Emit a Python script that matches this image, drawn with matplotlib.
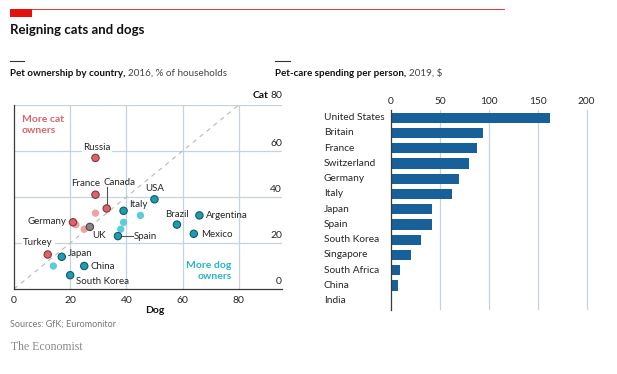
import matplotlib
matplotlib.use("Agg")
import matplotlib.pyplot as plt
from matplotlib.lines import Line2D
from matplotlib.patches import Rectangle
from matplotlib.transforms import blended_transform_factory, IdentityTransform

plt.rcParams['font.family'] = ['Lato', 'DejaVu Sans']

# --- pet ownership, % of households (dog, cat) ---
own_names = ["Russia", "France", "Canada", "Germany", "UK", "Turkey",
             "USA", "Italy", "Spain", "Brazil", "Argentina", "Mexico",
             "Japan", "China", "South Korea"]
own_dog = [29, 29, 33, 21, 27, 12, 50, 39, 37, 58, 66, 64, 17, 25, 20]
own_cat = [57, 41, 35, 29, 27, 15, 39, 34, 23, 28, 32, 24, 14, 10, 6]
own_kind = ["cat", "cat", "cat", "cat", "even", "cat",
            "dog", "dog", "dog", "dog", "dog", "dog", "dog", "dog", "dog"]
# unlabelled countries
other_dog = [29, 22, 25, 45, 39, 38, 14]
other_cat = [33, 28, 26, 32, 29, 26, 10]
other_kind = ["cat", "cat", "cat", "dog", "dog", "dog", "dog"]

# --- pet-care spending per person, 2019, $ ---
spend_names = ["United States", "Britain", "France", "Switzerland", "Germany",
               "Italy", "Japan", "Spain", "South Korea", "Singapore",
               "South Africa", "China", "India"]
spend_vals = [162, 94, 88, 80, 70, 62, 42, 41.5, 31, 20, 9, 7, 0.4]

W, H = 617, 374
fig = plt.figure(figsize=(W / 100, H / 100), dpi=100)

def fx(px):
    return px / W

def fy(py):
    return 1 - py / H

grid_c = "#c5d3de"
dark = "#3a3a3a"
txt_c = "#262626"
fill = {"cat": "#d3676c", "dog": "#1f9cad", "even": "#8b8282"}
edge = {"cat": "#8e3237", "dog": "#0e5b66", "even": "#4f4646"}
light = {"cat": "#f2a0a2", "dog": "#5ccbdc"}

# header
fig.add_artist(Line2D([fx(10), fx(504)], [fy(9), fy(9)], color="#e3120b", lw=0.6))
fig.add_artist(Rectangle((fx(10), fy(17)), fx(22), 8 / H, color="#e3120b", lw=0))
fig.text(fx(10), fy(30), "Reigning cats and dogs", fontsize=9.5, fontweight="bold",
         va="center", ha="left", color="#111111")
fig.add_artist(Line2D([fx(10), fx(24)], [fy(61), fy(61)], color="#333333", lw=0.8))
fig.add_artist(Line2D([fx(275), fx(290)], [fy(61), fy(61)], color="#333333", lw=0.8))

renderer = fig.canvas.get_renderer()

def subtitle(x, bold, rest):
    t = fig.text(fx(x), fy(73), bold, fontsize=7.1, fontweight="bold",
                 va="center", ha="left", color="#111111")
    bb = t.get_window_extent(renderer)
    fig.text(bb.x1 / W + fx(3), fy(73), rest, fontsize=7.1, va="center",
             ha="left", color="#444444")

subtitle(10, "Pet ownership by country,", "2016, % of households")
subtitle(275, "Pet-care spending per person,", "2019, $")

fig.text(fx(10), fy(324), "Sources: GfK; Euromonitor", fontsize=6.5,
         color="#777777", va="center")
fig.text(fx(11), fy(347), "The Economist", fontsize=8.5, family="Liberation Serif",
         color="#888888", va="center")

# ---------- scatter ----------
ax = fig.add_axes([fx(14), fy(289), fx(282) - fx(14), (289 - 105) / H])
ax.set_xlim(0, 95.4)
ax.set_ylim(0, 80)
for s in ["top", "right"]:
    ax.spines[s].set_visible(False)
ax.spines["left"].set_color(dark)
ax.spines["bottom"].set_color(dark)
ax.spines["left"].set_linewidth(0.9)
ax.spines["bottom"].set_linewidth(0.9)
for v in [20, 40, 60, 80]:
    ax.axhline(v, color=grid_c, lw=0.9, zorder=0)
    ax.axvline(v, ymax=1, color=grid_c, lw=0.9, zorder=0)
ax.plot([0, 80], [0, 80], ls=(0, (4, 4)), color="#b9b9b9", lw=0.8, zorder=1)
ax.set_xticks([0, 20, 40, 60, 80])
ax.set_xticklabels(["0", "20", "40", "60", "80"])
ax.tick_params(axis="x", length=0, pad=5, labelsize=7.5, labelcolor=txt_c)
ax.set_yticks([])
ytr = blended_transform_factory(ax.transAxes, ax.transData)
for v in [0, 20, 40, 60]:
    ax.text(1.0, v + 1.5, str(v), transform=ytr,
            ha="right", va="bottom", fontsize=7.5, color=txt_c)
t = ax.text(1.0, 82, "80", transform=ytr,
            ha="right", va="bottom", fontsize=7.5, color=txt_c)
bb = t.get_window_extent(renderer)
ax.text(bb.x0 - 2, 82, "Cat", transform=blended_transform_factory(IdentityTransform(), ax.transData),
        ha="right", va="bottom", fontsize=7.5, fontweight="bold", color="#111111")
ax.text(50, -9.5, "Dog", ha="center", va="center", fontsize=7.5, fontweight="bold",
        color="#111111", clip_on=False)

ax.scatter(other_dog, other_cat, s=28, c=[light[k] for k in other_kind], lw=0, zorder=3)
ax.scatter(own_dog, own_cat, s=28, c=[fill[k] for k in own_kind],
           edgecolors=[edge[k] for k in own_kind], lw=0.8, zorder=4)

lab_kw = dict(fontsize=7, color=txt_c, va="center", zorder=5)
wbox = dict(facecolor="white", edgecolor="none", pad=1.2)
label_pos = {
    "Russia": (29.5, 61.6, "center", True),
    "France": (25.5, 45.8, "center", False),
    "Canada": (37.5, 46.4, "center", False),
    "Germany": (18.7, 29.4, "right", False),
    "UK": (28, 23.2, "left", False),
    "Turkey": (8.6, 20, "center", True),
    "USA": (50, 43.6, "center", False),
    "Italy": (41, 36.7, "left", False),
    "Spain": (42.7, 23, "left", False),
    "Brazil": (58, 32.3, "center", False),
    "Argentina": (68.3, 31.9, "left", False),
    "Mexico": (66.5, 23.9, "left", False),
    "Japan": (19.3, 15.4, "left", False),
    "China": (27.3, 9.7, "left", False),
    "South Korea": (22, 3.3, "left", False),
}
for name in own_names:
    x, y, ha, boxed = label_pos[name]
    ax.text(x, y, name, ha=ha, bbox=wbox if boxed else None, **lab_kw)
# leader lines
ax.plot([33.1, 33.1], [36.6, 44.3], color="#555555", lw=0.8, zorder=2)
ax.plot([38.2, 42.2], [23, 23], color="#555555", lw=0.8, zorder=2)

ax.text(2.7, 75.5, "More cat\nowners", color="#d3676c", fontsize=7.5, fontweight="bold",
        ha="left", va="top", linespacing=1.25)
ax.text(77.5, 12, "More dog\nowners", color="#25b4c8", fontsize=7.5, fontweight="bold",
        ha="right", va="top", linespacing=1.25)

# ---------- bars ----------
bx = fig.add_axes([fx(391), fy(310), 210 * 0.9785 / W, 200 / H])
bx.set_xlim(0, 210)
bx.set_ylim(12.61, -0.505)
ypos = list(range(len(spend_names)))
bx.barh(ypos, spend_vals, height=0.68, color="#17609a", zorder=3)
for s in ["top", "right", "bottom"]:
    bx.spines[s].set_visible(False)
bx.spines["left"].set_color(dark)
bx.spines["left"].set_linewidth(0.9)
bx.spines["left"].set_zorder(4)
for v in [50, 100, 150, 200]:
    bx.axvline(v, color=grid_c, lw=0.9, zorder=0)
bx.xaxis.tick_top()
bx.set_xticks([0, 50, 100, 150, 200])
bx.tick_params(axis="x", length=0, pad=3, labelsize=7.3, labelcolor=txt_c)
bx.set_yticks([])
tr = blended_transform_factory(fig.transFigure, bx.transData)
for i, name in enumerate(spend_names):
    bx.text(fx(324), i, name, transform=tr, ha="left", va="center",
            fontsize=7.3, color=txt_c)

fig.savefig("out.png", dpi=100)
